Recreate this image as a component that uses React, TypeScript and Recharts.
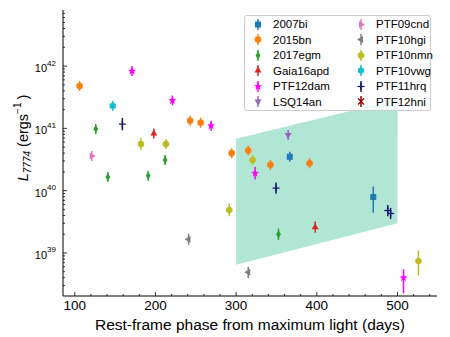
import React from "react";
import { ComposedChart, Area, Scatter, ErrorBar, XAxis, YAxis, Legend } from "recharts";

const FONT = '"Liberation Sans", Arial, sans-serif';

// band (shaded model region)
const bandPhase = [300, 500];
const bandLow = [6.5e38, 3.0e39];
const bandHigh = [6.8e40, 2.9e41];

// each object: phase (days), L7774 (erg/s), error (dex)
const sn2007bi = { phase: [366.5, 470], lum: [3.5e40, 7.9e39], lo: [0.08, 0.25], hi: [0.08, 0.17] };
const sn2015bn = {
  phase: [106, 243, 256, 294.5, 315, 342.5, 391],
  lum: [4.8e41, 1.32e41, 1.23e41, 4.0e40, 4.4e40, 2.6e40, 2.75e40],
  lo: [0.08, 0.08, 0.08, 0.08, 0.08, 0.08, 0.08],
  hi: [0.08, 0.08, 0.08, 0.08, 0.08, 0.08, 0.08],
};
const sn2017egm = {
  phase: [126, 141, 191, 212, 352.5],
  lum: [9.8e40, 1.66e40, 1.74e40, 3.1e40, 2.0e39],
  lo: [0.08, 0.08, 0.08, 0.08, 0.09],
  hi: [0.08, 0.08, 0.08, 0.08, 0.09],
};
const gaia16apd = { phase: [198, 398], lum: [8.3e40, 2.6e39], lo: [0.08, 0.09], hi: [0.08, 0.09] };
const ptf12dam = {
  phase: [171, 221, 269, 323.5, 507.5],
  lum: [8.3e41, 2.8e41, 1.1e41, 1.9e40, 4.0e38],
  lo: [0.08, 0.08, 0.08, 0.1, 0.25],
  hi: [0.08, 0.08, 0.08, 0.1, 0.14],
};
const lsq14an = { phase: [364.5], lum: [7.8e40], lo: [0.08], hi: [0.08] };
const ptf09cnd = { phase: [121], lum: [3.6e40], lo: [0.08], hi: [0.08] };
const ptf10hgi = { phase: [241, 315], lum: [1.66e39, 4.9e38], lo: [0.09, 0.09], hi: [0.09, 0.09] };
const ptf10nmn = {
  phase: [182, 213, 291.5, 320.5, 526],
  lum: [5.6e40, 5.6e40, 4.9e39, 3.1e40, 7.4e38],
  lo: [0.1, 0.08, 0.1, 0.08, 0.23],
  hi: [0.1, 0.08, 0.1, 0.08, 0.17],
};
const ptf10vwg = { phase: [147], lum: [2.3e41], lo: [0.08], hi: [0.08] };
const ptf11hrq = {
  phase: [159, 349.5, 488, 491.5],
  lum: [1.17e41, 1.1e40, 4.8e39, 4.3e39],
  lo: [0.1, 0.09, 0.09, 0.09],
  hi: [0.1, 0.09, 0.09, 0.09],
};
const ptf12hni = { phase: [] as number[], lum: [] as number[], lo: [] as number[], hi: [] as number[] };

const series = [
  { name: "2007bi", color: "#1f77b4", kind: "square", d: sn2007bi },
  { name: "2015bn", color: "#ff7f0e", kind: "circle", d: sn2015bn },
  { name: "2017egm", color: "#2ca02c", kind: "thin_diamond", d: sn2017egm },
  { name: "Gaia16apd", color: "#d62728", kind: "triangle_up", d: gaia16apd },
  { name: "PTF12dam", color: "#ff00ff", kind: "star", d: ptf12dam },
  { name: "LSQ14an", color: "#9467bd", kind: "triangle_down", d: lsq14an },
  { name: "PTF09cnd", color: "#e377c2", kind: "triangle_right", d: ptf09cnd },
  { name: "PTF10hgi", color: "#7f7f7f", kind: "triangle_left", d: ptf10hgi },
  { name: "PTF10nmn", color: "#bcbd22", kind: "octagon", d: ptf10nmn },
  { name: "PTF10vwg", color: "#17becf", kind: "hexagon", d: ptf10vwg },
  { name: "PTF11hrq", color: "#191970", kind: "plus", d: ptf11hrq },
  { name: "PTF12hni", color: "#8b0000", kind: "x", d: ptf12hni },
];

const xMajor = [100, 200, 300, 400, 500];
const xMinor: number[] = [];
for (let v = 100; v <= 540; v += 20) if (v % 100 !== 0) xMinor.push(v);
const xTicks = [...xMajor, ...xMinor];

const yMajor = [1e39, 1e40, 1e41, 1e42];
const yExp = [39, 40, 41, 42];
const yTicks: number[] = [];
for (let e = 38; e <= 42; e++) for (let m = 1; m <= 9; m++) {
  const v = m * Math.pow(10, e);
  if (v > 2.04e38 && v < 7.94e42) yTicks.push(v);
}

const X_DOMAIN = [85.4, 549];
const Y_DOMAIN = [2.04e38, 7.94e42];

function poly(cx: number, cy: number, r: number, n: number, rot: number) {
  const pts: string[] = [];
  for (let i = 0; i < n; i++) {
    const a = rot + (i * 2 * Math.PI) / n;
    pts.push(`${cx + r * Math.cos(a)},${cy + r * Math.sin(a)}`);
  }
  return pts.join(" ");
}

function Marker({ kind, cx, cy, color }: { kind: string; cx: number; cy: number; color: string }) {
  switch (kind) {
    case "square":
      return <rect x={cx - 3} y={cy - 3} width={6} height={6} fill={color} />;
    case "circle":
      return <circle cx={cx} cy={cy} r={3.3} fill={color} />;
    case "thin_diamond":
      return <polygon points={`${cx},${cy - 4} ${cx + 2.4},${cy} ${cx},${cy + 4} ${cx - 2.4},${cy}`} fill={color} />;
    case "triangle_up":
      return <polygon points={poly(cx, cy, 4, 3, -Math.PI / 2)} fill={color} />;
    case "triangle_down":
      return <polygon points={poly(cx, cy, 4, 3, Math.PI / 2)} fill={color} />;
    case "triangle_right":
      return <polygon points={poly(cx, cy, 4, 3, 0)} fill={color} />;
    case "triangle_left":
      return <polygon points={poly(cx, cy, 4, 3, Math.PI)} fill={color} />;
    case "hexagon":
      return <polygon points={poly(cx, cy, 3.6, 6, -Math.PI / 2)} fill={color} />;
    case "octagon":
      return <polygon points={poly(cx, cy, 3.5, 8, Math.PI / 8)} fill={color} />;
    case "star": {
      const pts: string[] = [];
      for (let i = 0; i < 10; i++) {
        const r = i % 2 === 0 ? 4.2 : 1.8;
        const a = -Math.PI / 2 + (i * Math.PI) / 5;
        pts.push(`${cx + r * Math.cos(a)},${cy + r * Math.sin(a)}`);
      }
      return <polygon points={pts.join(" ")} fill={color} />;
    }
    case "plus":
      return (
        <g stroke={color} strokeWidth={1.3}>
          <line x1={cx - 3.5} x2={cx + 3.5} y1={cy} y2={cy} />
          <line x1={cx} x2={cx} y1={cy - 3.5} y2={cy + 3.5} />
        </g>
      );
    case "x":
      return (
        <g stroke={color} strokeWidth={1.3}>
          <line x1={cx - 3} x2={cx + 3} y1={cy - 3} y2={cy + 3} />
          <line x1={cx - 3} x2={cx + 3} y1={cy + 3} y2={cy - 3} />
        </g>
      );
    default:
      return null;
  }
}

function toRows(d: { phase: number[]; lum: number[]; lo: number[]; hi: number[] }) {
  return d.phase.map((x, i) => ({
    x,
    y: d.lum[i],
    e: [d.lum[i] * (1 - Math.pow(10, -d.lo[i])), d.lum[i] * (Math.pow(10, d.hi[i]) - 1)],
  }));
}

const bandData = bandPhase.map((x, i) => ({ x, band: [bandLow[i], bandHigh[i]] }));

function BottomTick(props: any) {
  const { x, y, payload } = props;
  const major = xMajor.includes(payload.value);
  return (
    <g>
      <line x1={x} x2={x} y1={y} y2={y - (major ? 4 : 2)} stroke="#000" strokeWidth={0.8} />
      {major && (
        <text x={x} y={y + 13.5} textAnchor="middle" fontSize={13.5} fontFamily={FONT} fill="#000">
          {payload.value}
        </text>
      )}
    </g>
  );
}

function TopTick(props: any) {
  const { x, y, payload } = props;
  const major = xMajor.includes(payload.value);
  return <line x1={x} x2={x} y1={y} y2={y + (major ? 4 : 2)} stroke="#000" strokeWidth={0.8} />;
}

function LeftTick(props: any) {
  const { x, y, payload } = props;
  const idx = yMajor.indexOf(payload.value);
  const major = idx >= 0;
  return (
    <g>
      <line x1={x} x2={x + (major ? 4 : 2)} y1={y} y2={y} stroke="#000" strokeWidth={0.8} />
      {major && (
        <text x={x - 7} y={y + 6} textAnchor="end" fontFamily={FONT} fill="#000" fontSize={11}>
          10<tspan fontSize={8} dy={-6.5}>{yExp[idx]}</tspan>
        </text>
      )}
    </g>
  );
}

function RightTick(props: any) {
  const { x, y, payload } = props;
  const major = yMajor.includes(payload.value);
  return <line x1={x} x2={x - (major ? 4 : 2)} y1={y} y2={y} stroke="#000" strokeWidth={0.8} />;
}

function YTitle() {
  return (
    <text x={28} y={138} transform="rotate(-90, 28, 138)" textAnchor="middle" fontFamily={FONT} fontSize={14.5} fill="#000">
      <tspan fontStyle="italic">L</tspan>
      <tspan fontStyle="italic" fontSize={10} dy={3}>7774</tspan>
      <tspan dy={-3}> (ergs</tspan>
      <tspan fontSize={10} dy={-7}>{"\u22121"}</tspan>
      <tspan dy={7}>{"\u2009)"}</tspan>
    </text>
  );
}

function LegendBox() {
  return (
    <div
      style={{
        width: 187,
        height: 96,
        boxSizing: "border-box",
        border: "1px solid #cccccc",
        borderRadius: 3,
        background: "rgba(255,255,255,0.8)",
        position: "relative",
        fontFamily: FONT,
        fontSize: 11.5,
        color: "#000",
      }}
    >
      {series.map((s, i) => {
        const col = i < 6 ? 0 : 1;
        const row = i % 6;
        return (
          <div
            key={s.name}
            style={{ position: "absolute", left: col ? 109 : 6, top: 0.8 + row * 15.5, height: 15, display: "flex", alignItems: "center" }}
          >
            <svg width={14} height={15} style={{ display: "block" }}>
              <line x1={7} x2={7} y1={2} y2={13} stroke={s.color} strokeWidth={1.5} />
              <Marker kind={s.kind} cx={7} cy={7.5} color={s.color} />
            </svg>
            <span style={{ marginLeft: 8, whiteSpace: "nowrap" }}>{s.name}</span>
          </div>
        );
      })}
    </div>
  );
}

export default function App() {
  return (
    <div style={{ position: "absolute", left: 0, top: 0, width: 450, height: 337, background: "#fff" }}>
      <ComposedChart width={450} height={337} data={bandData} margin={{ top: 10, right: 13, bottom: 0, left: 0 }}>
        <XAxis
          xAxisId="b"
          dataKey="x"
          type="number"
          scale="linear"
          domain={X_DOMAIN}
          allowDataOverflow
          ticks={xTicks}
          interval={0}
          tickSize={0}
          tickMargin={0}
          tickLine={false}
          tick={<BottomTick />}
          height={41}
          axisLine={{ stroke: "#000", strokeWidth: 1 }}
          label={{ value: "Rest-frame phase from maximum light (days)", position: "insideBottom", offset: 7, fontSize: 15.5, fontFamily: FONT, fill: "#000" }}
        />
        <XAxis
          xAxisId="t"
          orientation="top"
          type="number"
          domain={X_DOMAIN}
          allowDataOverflow
          ticks={xTicks}
          interval={0}
          tickSize={0}
          tickMargin={0}
          tickLine={false}
          tick={<TopTick />}
          height={0}
          axisLine={{ stroke: "#000", strokeWidth: 1 }}
        />
        <YAxis
          yAxisId="l"
          dataKey="y"
          type="number"
          scale="log"
          domain={Y_DOMAIN}
          allowDataOverflow
          ticks={yTicks}
          interval={0}
          tickSize={0}
          tickMargin={0}
          tickLine={false}
          tick={<LeftTick />}
          width={63}
          axisLine={{ stroke: "#000", strokeWidth: 1 }}
          label={{ content: () => <YTitle /> }}
        />
        <YAxis
          yAxisId="r"
          orientation="right"
          type="number"
          scale="log"
          domain={Y_DOMAIN}
          allowDataOverflow
          ticks={yTicks}
          interval={0}
          tickSize={0}
          tickMargin={0}
          tickLine={false}
          tick={<RightTick />}
          width={0}
          axisLine={{ stroke: "#000", strokeWidth: 1 }}
        />
        <Area
          xAxisId="b"
          yAxisId="l"
          dataKey="band"
          type="linear"
          fill="#66cdaa"
          fillOpacity={0.5}
          stroke="none"
          isAnimationActive={false}
          legendType="none"
        />
        {series.map((s) => (
          <Scatter
            key={s.name}
            name={s.name}
            xAxisId="b"
            yAxisId="l"
            data={toRows(s.d)}
            fill={s.color}
            isAnimationActive={false}
            shape={(p: any) => <Marker kind={s.kind} cx={p.cx} cy={p.cy} color={s.color} />}
          >
            <ErrorBar dataKey="e" direction="y" width={0} stroke={s.color} strokeWidth={1.5} />
          </Scatter>
        ))}
        <Legend
          layout="horizontal"
          verticalAlign="middle"
          align="center"
          wrapperStyle={{ top: 15, left: 244, width: 187, height: 96 }}
          content={() => <LegendBox />}
        />
      </ComposedChart>
    </div>
  );
}
